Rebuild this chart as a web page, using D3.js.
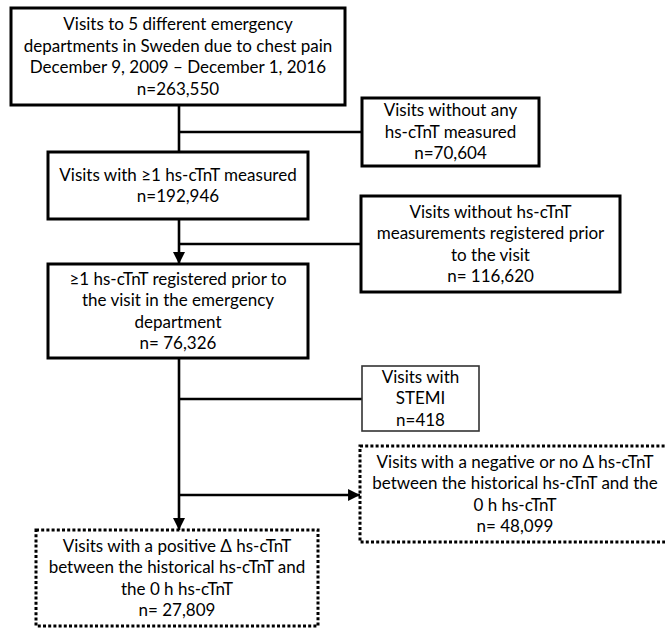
<!DOCTYPE html>
<html>
<head>
<meta charset="utf-8">
<script src="https://cdn.jsdelivr.net/npm/d3@7"></script>
<style>
  html, body { margin: 0; padding: 0; background: #fff; }
  svg { display: block; }
</style>
</head>
<body>
<div id="chart"></div>
<script>
// ── Data ──────────────────────────────────────────────────────────────────
const boxIds = ['all', 'noTnt', 'anyTnt', 'noPrior', 'prior', 'stemi', 'negDelta', 'posDelta']
const boxLabels = [
  ['Visits to 5 different emergency', 'departments in Sweden due to chest pain', 'December 9, 2009 \u2013 December 1, 2016'],
  ['Visits without any', 'hs-cTnT measured'],
  ['Visits with \u22651 hs-cTnT measured'],
  ['Visits without hs-cTnT', 'measurements registered prior', 'to the visit'],
  ['\u22651 hs-cTnT registered prior to', 'the visit in the emergency', 'department'],
  ['Visits with', 'STEMI'],
  ['Visits with a negative or no \u0394 hs-cTnT', 'between the historical hs-cTnT and the', '0 h hs-cTnT'],
  ['Visits with a positive \u0394 hs-cTnT', 'between the historical hs-cTnT and', 'the 0 h hs-cTnT']
]
const boxCounts = ['263,550', '70,604', '192,946', '116,620', '76,326', '418', '48,099', '27,809']
const countSpace = [false, false, false, true, true, false, true, true]

// ── Layout ────────────────────────────────────────────────────────────────
const W = 665, H = 630
const layout = {
  all:      { x: 11,  y: 8,   w: 334, h: 97, kind: 'solid' },
  noTnt:    { x: 362, y: 98,  w: 177, h: 68, kind: 'solid' },
  anyTnt:   { x: 48,  y: 152, w: 260, h: 67, kind: 'solid' },
  noPrior:  { x: 361, y: 196, w: 259, h: 96, kind: 'solid' },
  prior:    { x: 48,  y: 264, w: 260, h: 94, kind: 'solid' },
  stemi:    { x: 362, y: 366, w: 117, h: 65, kind: 'thin' },
  negDelta: { x: 360, y: 446, w: 310, h: 96, kind: 'dotted' },
  posDelta: { x: 36,  y: 530, w: 282, h: 96, kind: 'dotted' }
}
const spineX = 179
const LINE_H = 21.5

const svg = d3.select('#chart').append('svg')
  .attr('width', W).attr('height', H)
  .attr('font-family', 'Lato, "Open Sans", sans-serif')

svg.append('defs').append('marker')
  .attr('id', 'arrow')
  .attr('viewBox', '0 0 10 10')
  .attr('refX', 10).attr('refY', 5)
  .attr('markerWidth', 4.6).attr('markerHeight', 4.6)
  .attr('markerUnits', 'strokeWidth')
  .attr('orient', 'auto')
  .append('path').attr('d', 'M0,0 L10,5 L0,10 Z').attr('fill', '#000')

// ── Connectors ────────────────────────────────────────────────────────────
const L = layout
const edges = [
  { pts: [[spineX, L.all.y + L.all.h], [spineX, L.anyTnt.y]], arrow: false },
  { pts: [[spineX, 132], [L.noTnt.x, 132]], arrow: false },
  { pts: [[spineX, L.anyTnt.y + L.anyTnt.h], [spineX, L.prior.y]], arrow: true },
  { pts: [[spineX, 244], [L.noPrior.x, 244]], arrow: false },
  { pts: [[spineX, L.prior.y + L.prior.h], [spineX, L.posDelta.y]], arrow: true },
  { pts: [[spineX, 399], [L.stemi.x, 399]], arrow: false },
  { pts: [[spineX, 495], [L.negDelta.x, 495]], arrow: true }
]
svg.append('g').selectAll('path')
  .data(edges)
  .join('path')
  .attr('d', d => d3.line()(d.pts))
  .attr('fill', 'none')
  .attr('stroke', '#000')
  .attr('stroke-width', 2.6)
  .attr('marker-end', d => d.arrow ? 'url(#arrow)' : null)

// ── Boxes ─────────────────────────────────────────────────────────────────
const boxes = boxIds.map((id, i) => ({
  id, ...layout[id],
  lines: [...boxLabels[i], 'n=' + (countSpace[i] ? ' ' : '') + boxCounts[i]]
}))

const g = svg.append('g').selectAll('g')
  .data(boxes)
  .join('g')

g.append('rect')
  .attr('x', d => d.x).attr('y', d => d.y)
  .attr('width', d => d.w).attr('height', d => d.h)
  .attr('fill', '#fff')
  .attr('stroke', d => d.kind === 'thin' ? '#333' : '#000')
  .attr('stroke-width', d => d.kind === 'thin' ? 1.6 : 3)
  .attr('stroke-dasharray', d => d.kind === 'dotted' ? '3,2.2' : null)

g.append('text')
  .attr('text-anchor', 'middle')
  .attr('font-size', 17)
  .attr('fill', '#000')
  .each(function (d) {
    const n = d.lines.length
    const cy = d.y + d.h / 2
    const top = cy - (n - 1) * LINE_H / 2
    d3.select(this).selectAll('tspan')
      .data(d.lines)
      .join('tspan')
      .attr('x', d.x + d.w / 2)
      .attr('y', (t, j) => top + j * LINE_H)
      .attr('dy', '0.35em')
      .text(t => t)
  })
</script>
</body>
</html>
